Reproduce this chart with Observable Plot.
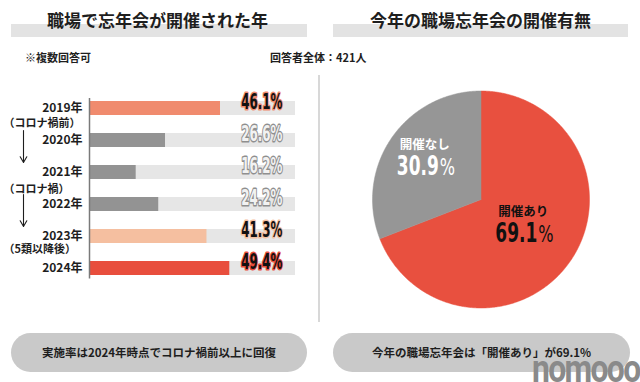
<!DOCTYPE html>
<html>
<head>
<meta charset="utf-8">
<script src="https://cdn.jsdelivr.net/npm/d3@7"></script>
<script src="https://cdn.jsdelivr.net/npm/@observablehq/plot@0.6"></script>
<style>
  body { margin: 0; background: #fff; }
  #root { position: relative; width: 640px; height: 382px; overflow: hidden;
          font-family: "Noto Sans CJK JP", sans-serif; color: #1e1e1e; background: #fff; }
  .band { position: absolute; top: 24px; height: 13px; background: #e3e3e3; }
  .title { position: absolute; top: 8px; font-size: 17px; font-weight: 700; line-height: 24px;
           text-align: center; white-space: nowrap; }
  .note { position: absolute; top: 49px; font-size: 11px; font-weight: 700; line-height: 16px; white-space: nowrap; }
  .pill { position: absolute; top: 333px; height: 39px; border-radius: 20px; background: #c9c9c9;
          font-size: 11.5px; font-weight: 700; line-height: 39px; text-align: center; white-space: nowrap; }
  .sep { position: absolute; left: 318px; top: 75px; width: 1.5px; height: 247px; background: #d8d8d8; }
  .logo { position: absolute; left: 532px; top: 359px; font-family: Roboto, sans-serif; font-weight: 700;
          font-size: 38px; line-height: 20px; color: #8a8a8a; letter-spacing: -2px;
          transform: scaleX(0.84); transform-origin: left center; white-space: nowrap; }
  .plot { position: absolute; }
</style>
</head>
<body>
<div id="root">
  <div class="band" style="left:11px;width:296px"></div>
  <div class="band" style="left:333px;width:295px"></div>
  <div class="title" style="left:0;width:315px">職場で忘年会が開催された年</div>
  <div class="title" style="left:333px;width:295px">今年の職場忘年会の開催有無</div>
  <div class="note" style="left:25px">※複数回答可</div>
  <div class="note" style="left:270px">回答者全体：421人</div>
  <div class="sep"></div>
  <div id="bars" class="plot" style="left:0;top:92px"></div>
  <div id="pie" class="plot" style="left:320px;top:80px"></div>
  <div class="pill" style="left:11px;width:296px">実施率は2024年時点でコロナ禍前以上に回復</div>
  <div class="pill" style="left:333px;width:297px">今年の職場忘年会は「開催あり」が69.1%</div>
  <div class="logo">nomooo</div>
</div>
<script>
// ---- data ----
const years = ["2019年", "2020年", "2021年", "2022年", "2023年", "2024年"];
const rates = [46.1, 26.6, 16.2, 24.2, 41.3, 49.4];
const periodNotes = ["（コロナ禍前）", "（コロナ禍）", "（5類以降後）"];
const periodNoteRows = ["2019年", "2021年", "2023年"];
const periodArrowFrom = ["2020年", "2022年"];
const periodArrowTo = ["2021年", "2023年"];
const pieLabels = ["開催あり", "開催なし"];
const pieValues = [69.1, 30.9];

// ---- styles ----
const barColors = ["#f08b6e", "#939393", "#939393", "#939393", "#f5bfa0", "#e84e3d"];
const labelFills = ["#111", "#f2f2f2", "#f2f2f2", "#f2f2f2", "#111", "#111"];
const labelStrokes = ["#f08b6e", "#8f8f8f", "#8f8f8f", "#8f8f8f", "#f5bfa0", "#e84e3d"];
const noteOffsets = [15, 17, 13];
const pieColors = ["#e8503f", "#969696"];
const pieTextColors = ["#111", "#ffffff"];
const trackMax = 72.7; // the grey track's extent on the percent scale

function squeeze(nodes, k) {
  nodes.forEach(t => {
    const x = +t.getAttribute("x") || 0, y = +t.getAttribute("y") || 0;
    const tr = t.getAttribute("transform") || "";
    t.removeAttribute("x"); t.removeAttribute("y");
    t.setAttribute("transform", `${tr} translate(${x},${y}) scale(${k},1)`);
  });
}

// ---- bar chart ----
const rows = years.map((y, i) => ({year: y, rate: rates[i], color: barColors[i], tf: labelFills[i], ts: labelStrokes[i]}));
const notes = periodNotes.map((t, i) => ({text: t, row: periodNoteRows[i]}));
const arrows = periodArrowFrom.map((f, i) => ({from: f, to: periodArrowTo[i]}));

const barPlot = Plot.plot({
  width: 320, height: 194,
  marginLeft: 90, marginRight: 25, marginTop: 6, marginBottom: 7.5,
  x: {domain: [0, trackMax], axis: null},
  y: {domain: years, paddingInner: 0.56, paddingOuter: 0.1, label: null, axis: null},
  color: {type: "identity"},
  style: {fontFamily: "Noto Sans CJK JP", background: "transparent", overflow: "visible", color: "#1e1e1e"},
  marks: [
    Plot.barX(rows, {x1: 0, x2: trackMax, y: "year", fill: "#e6e6e6"}),
    Plot.barX(rows, {x1: 0, x2: "rate", y: "year", fill: "color"}),
    Plot.ruleX([0], {stroke: "#7a7a7a", strokeWidth: 1.5, dx: -1}),
    Plot.axisY({tickSize: 0, tickPadding: 8, fontSize: 12, fontWeight: 700, label: null, fill: "#1e1e1e"}),
    Plot.text(rows, {x: trackMax, y: "year", text: d => d.rate.toFixed(1) + "%", textAnchor: "end", dx: -13, dy: 0.5,
      fill: "tf", stroke: "ts", strokeWidth: 3, paintOrder: "stroke", strokeLinejoin: "round",
      fontSize: 20.5, fontWeight: 700, fontFamily: "DejaVu Sans", className: "pct"}),
    ...notes.map((n, i) => Plot.text([n], {y: "row", text: "text", frameAnchor: "left", dx: -87, dy: noteOffsets[i],
      textAnchor: "start", fontSize: 11, fontWeight: 700, fill: "#1e1e1e"})),
    Plot.arrow(arrows, {x1: 0, x2: 0, y1: "from", y2: "to", dx: -67, dy: -10, stroke: "#1e1e1e", strokeWidth: 1.1, headLength: 9})
  ]
});
document.getElementById("bars").appendChild(barPlot);
squeeze(barPlot.querySelectorAll(".pct text"), 0.58);

// ---- pie chart ----
const pieData = pieLabels.map((l, i) => ({label: l, value: pieValues[i]}));
const arcs = d3.pie().sort(null).value(d => d.value)(pieData);
const sliceMarks = arcs.map((a, i) => {
  const n = Math.max(2, Math.ceil((a.endAngle - a.startAngle) / (Math.PI / 360)));
  const pts = [{x: 0, y: 0}];
  for (let j = 0; j <= n; j++) {
    const t = a.startAngle + (a.endAngle - a.startAngle) * j / n;
    pts.push({x: Math.sin(t), y: Math.cos(t)});
  }
  pts.push({x: 0, y: 0});
  return Plot.line(pts, {x: "x", y: "y", fill: pieColors[i], stroke: pieColors[i], strokeWidth: 0.5});
});
const lr = 0.55;
const pieLbl = arcs.map((a, i) => {
  const m = (a.startAngle + a.endAngle) / 2;
  return {x: lr * Math.sin(m), y: lr * Math.cos(m), name: a.data.label, value: a.data.value, tc: pieTextColors[i]};
});
const piePlot = Plot.plot({
  width: 320, height: 240,
  marginLeft: 52, marginRight: 51, marginTop: 10.5, marginBottom: 12.5,
  x: {domain: [-1, 1], axis: null},
  y: {domain: [-1, 1], axis: null},
  color: {type: "identity"},
  style: {fontFamily: "Noto Sans CJK JP", background: "transparent", overflow: "visible"},
  marks: [
    ...sliceMarks,
    Plot.text(pieLbl, {x: "x", y: "y", text: "name", fill: "tc", dx: -7, dy: -21, fontSize: 12.5, fontWeight: 700}),
    Plot.text(pieLbl, {x: "x", y: "y", text: d => d.value.toFixed(1), fill: "tc", textAnchor: "end", dx: 7, dy: 9,
      fontSize: 27, fontWeight: 700, fontFamily: "DejaVu Sans", className: "pienum"}),
    Plot.text(pieLbl, {x: "x", y: "y", text: () => "%", fill: "tc", textAnchor: "start", dx: 8, dy: 9,
      fontSize: 23, fontWeight: 400, fontFamily: "DejaVu Sans", className: "piepct"})
  ]
});
document.getElementById("pie").appendChild(piePlot);
squeeze(piePlot.querySelectorAll(".pienum text"), 0.63);
squeeze(piePlot.querySelectorAll(".piepct text"), 0.7);
</script>
</body>
</html>
